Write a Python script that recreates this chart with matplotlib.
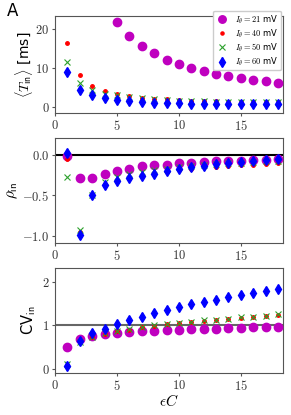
import matplotlib
matplotlib.use("Agg")
import matplotlib.pyplot as plt
import numpy as np
from matplotlib.ticker import FuncFormatter

plt.rcParams['mathtext.fontset'] = 'cm'
plt.rcParams['font.family'] = ['DejaVu Sans']

eps_c = np.arange(1, 19)
labels = [r'$I_\theta = 21$ mV', r'$I_\theta = 40$ mV', r'$I_\theta = 50$ mV', r'$I_\theta = 60$ mV']

# mean interval <T_in> [ms]
t_21 = [np.nan, np.nan, np.nan, np.nan, 21.8, 18.2, 15.6, 13.7, 12.1, 10.9, 10.0, 9.1, 8.5, 7.8, 7.3, 6.8, 6.5, 6.2]
t_40 = [16.3, 8.1, 5.4, 4.1, 3.2, 2.7, 2.3, 2.0, 1.9, 1.7, 1.6, 1.5, 1.4, 1.3, 1.3, 1.2, 1.2, 1.1]
t_50 = [11.5, 6.0, 4.3, 3.4, 2.9, 2.5, 2.3, 2.0, 1.8, 1.6, 1.5, 1.4, 1.3, 1.3, 1.2, 1.2, 1.1, 1.1]
t_60 = [9.0, 4.4, 3.0, 2.2, 1.7, 1.4, 1.2, 1.0, 0.9, 0.85, 0.8, 0.75, 0.7, 0.7, 0.65, 0.6, 0.6, 0.6]
t_60_err = [0.6, 0.5, 0.4, 0.4, 0.4, 0.4, 0.4, 0.4, 0.4, 0.4, 0.4, 0.4, 0.4, 0.4, 0.4, 0.4, 0.4, 0.4]

# serial correlation rho_in
rho_21 = [-0.01, -0.29, -0.28, -0.24, -0.20, -0.17, -0.14, -0.13, -0.12, -0.10, -0.095, -0.09, -0.08, -0.08, -0.07, -0.065, -0.06, -0.055]
rho_40 = [-0.05, -0.95, -0.50, -0.36, -0.31, -0.29, -0.26, -0.24, -0.21, -0.19, -0.17, -0.155, -0.145, -0.135, -0.125, -0.12, -0.11, -0.10]
rho_50 = [-0.27, -0.93, -0.49, -0.33, -0.27, -0.23, -0.21, -0.19, -0.17, -0.15, -0.14, -0.125, -0.115, -0.105, -0.095, -0.085, -0.08, -0.075]
rho_60 = [0.02, -0.99, -0.50, -0.37, -0.32, -0.29, -0.26, -0.23, -0.20, -0.18, -0.155, -0.135, -0.115, -0.10, -0.085, -0.07, -0.06, -0.05]
rho_60_err = [0.03] * 18

# coefficient of variation CV_in
cv_21 = [0.51, 0.68, 0.76, 0.80, 0.83, 0.85, 0.86, 0.88, 0.89, 0.90, 0.91, 0.92, 0.92, 0.93, 0.94, 0.95, 0.95, 0.95]
cv_40 = [0.10, 0.63, 0.73, 0.81, 0.86, 0.90, 0.95, 0.99, 1.02, 1.05, 1.08, 1.10, 1.12, 1.14, 1.17, 1.20, 1.22, 1.24]
cv_50 = [0.12, 0.61, 0.74, 0.82, 0.87, 0.91, 0.96, 1.00, 1.03, 1.06, 1.08, 1.11, 1.13, 1.15, 1.18, 1.20, 1.22, 1.25]
cv_60 = [0.07, 0.64, 0.82, 0.92, 1.04, 1.11, 1.20, 1.28, 1.36, 1.42, 1.48, 1.53, 1.58, 1.64, 1.69, 1.74, 1.78, 1.83]
cv_60_err = [0.06] * 18

spine_col = '#555555'

fig = plt.figure(figsize=(2.91, 4.15), dpi=100)
ax1 = fig.add_axes([0.189, 0.7277, 0.7835, 0.2337])
ax2 = fig.add_axes([0.189, 0.4145, 0.7835, 0.253])
ax3 = fig.add_axes([0.189, 0.1012, 0.7835, 0.2542])


def draw(ax, y21, y40, y50, y60, err60):
    ax.plot(eps_c, y21, 'o', color='m', ms=6, label=labels[0], zorder=3)
    ax.plot(eps_c, y40, '.', color='r', ms=5, label=labels[1], zorder=4)
    ax.plot(eps_c, y50, 'x', color='tab:green', ms=5, mew=0.8, label=labels[2], zorder=4)
    ax.errorbar(eps_c, y60, yerr=err60, fmt='d', color='b', ms=5.5, elinewidth=1,
                label=labels[3], zorder=5)
    ax.set_xlim(0, 18.4)
    ax.set_xticks([0, 5, 10, 15])
    for s in ax.spines.values():
        s.set_color(spine_col)
    ax.tick_params(colors=spine_col, labelcolor='#333333', labelsize=9, length=2.5, pad=1.5)


def fmt(dec):
    def f(v, pos):
        if dec:
            return r'$%.1f$' % v
        return r'$%d$' % round(v)
    return FuncFormatter(f)


draw(ax1, t_21, t_40, t_50, t_60, t_60_err)
ax1.set_ylim(-1.6, 23.3)
ax1.set_yticks([0, 10, 20])
ax1.set_ylabel(r'$\langle T_{\mathsf{in}}\rangle$ [ms]', fontsize=10, labelpad=0)
ax1.legend(loc='upper right', bbox_to_anchor=(0.99, 1.055), borderaxespad=0.0,
           fontsize=6, labelspacing=0.2, handletextpad=0.8, handlelength=1.5,
           borderpad=0.3, framealpha=1.0, edgecolor='#cccccc', fancybox=True,
           numpoints=1, markerscale=0.9)

draw(ax2, rho_21, rho_40, rho_50, rho_60, rho_60_err)
ax2.axhline(0, color='k', lw=1.5, zorder=2)
ax2.set_ylim(-1.09, 0.21)
ax2.set_yticks([0.0, -0.5, -1.0])
ax2.set_ylabel(r'$\rho_{\mathsf{in}}$', fontsize=11, labelpad=1.5)

draw(ax3, cv_21, cv_40, cv_50, cv_60, cv_60_err)
ax3.axhline(1, color='#666666', lw=1.5, zorder=2)
ax3.set_ylim(-0.09, 2.32)
ax3.set_yticks([0, 1, 2])
ax3.set_ylabel(r'CV$_{\mathsf{in}}$', fontsize=10.5, labelpad=3)
ax3.set_xlabel(r'$\epsilon C$', fontsize=11, labelpad=0.5)

for ax, dec in [(ax1, False), (ax2, True), (ax3, False)]:
    ax.yaxis.set_major_formatter(fmt(dec))
    ax.xaxis.set_major_formatter(fmt(False))

fig.text(0.025, 0.995, 'A', fontsize=12, va='top', ha='left')

fig.savefig('out.png', dpi=100)
